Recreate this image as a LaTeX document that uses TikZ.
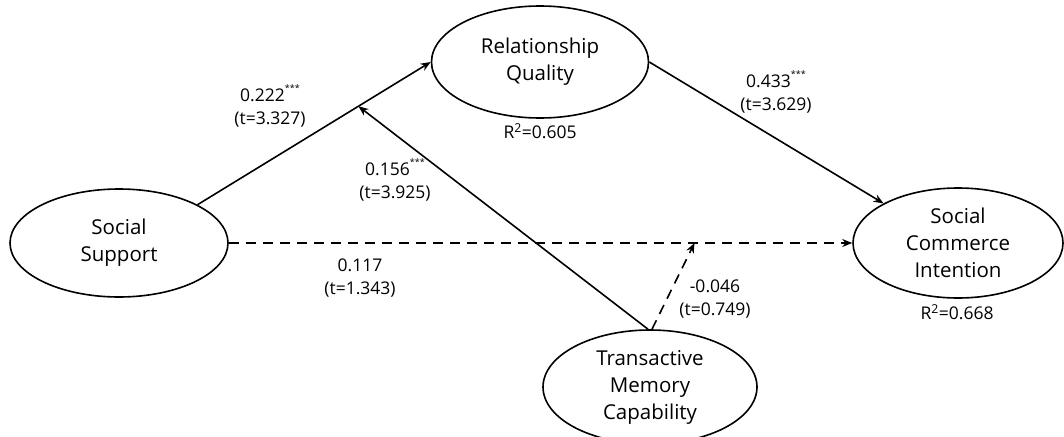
\documentclass[tikz,border=0pt]{standalone}
\usepackage{fontspec}
\setmainfont{Open Sans}
\usetikzlibrary{shapes.geometric,arrows.meta,calc}
\newcommand{\sig}{\raisebox{0.55em}{\fontsize{9}{9}\selectfont ***}}
\begin{document}
\begin{tikzpicture}[x=1pt,y=-1pt,
  latent/.style={draw,ellipse,line width=1.6pt,inner sep=0pt,align=center,font=\fontsize{20.5}{27}\selectfont},
  coef/.style={align=center,font=\fontsize{17.5}{23}\selectfont,inner sep=0pt},
  path/.style={line width=1.6pt,-{Stealth[length=10pt,width=8pt]}},
  dpath/.style={path,dash pattern=on 10pt off 7pt}]
\clip (0,0) rectangle (1064,436);
\useasboundingbox (0,0) rectangle (1064,436);
\node[latent,minimum width=218pt,minimum height=108pt] (ss) at (119,243) {Social\\Support};
\node[latent,minimum width=217pt,minimum height=112pt] (rq) at (540,62) {Relationship\\Quality};
\node[latent,minimum width=210pt,minimum height=110pt] (sci) at (958,243) {Social\\Commerce\\Intention};
\node[latent,minimum width=214pt,minimum height=114pt] (tmc) at (650,387) {Transactive\\Memory\\Capability};
\node[coef] (r2a) at (540,131) {R\textsuperscript{2}=0.605};
\node[coef] (r2b) at (957,312) {R\textsuperscript{2}=0.668};
\draw[path] (ss.26) -- (rq.west);
\draw[path] (rq.east) -- (sci.152);
\draw[dpath] (ss.east) -- (sci.west);
\coordinate (m1) at ($(ss.26)!0.69!(rq.west)$);
\coordinate (m2) at ($(ss.east)!0.747!(sci.west)$);
\draw[path] ([xshift=-2pt]tmc.north) -- (m1);
\draw[dpath] ([xshift=2pt]tmc.north) -- (m2);
\node[coef] (l1) at (270,106) {0.222\sig\\(t=3.327)};
\node[coef] (l2) at (395,180) {0.156\sig\\(t=3.925)};
\node[coef] (l3) at (776,92) {0.433\sig\\(t=3.629)};
\node[coef] (l4) at (360,278) {0.117\\(t=1.343)};
\node[coef] (l5) at (715,299) {-0.046\\(t=0.749)};
\end{tikzpicture}
\end{document}
